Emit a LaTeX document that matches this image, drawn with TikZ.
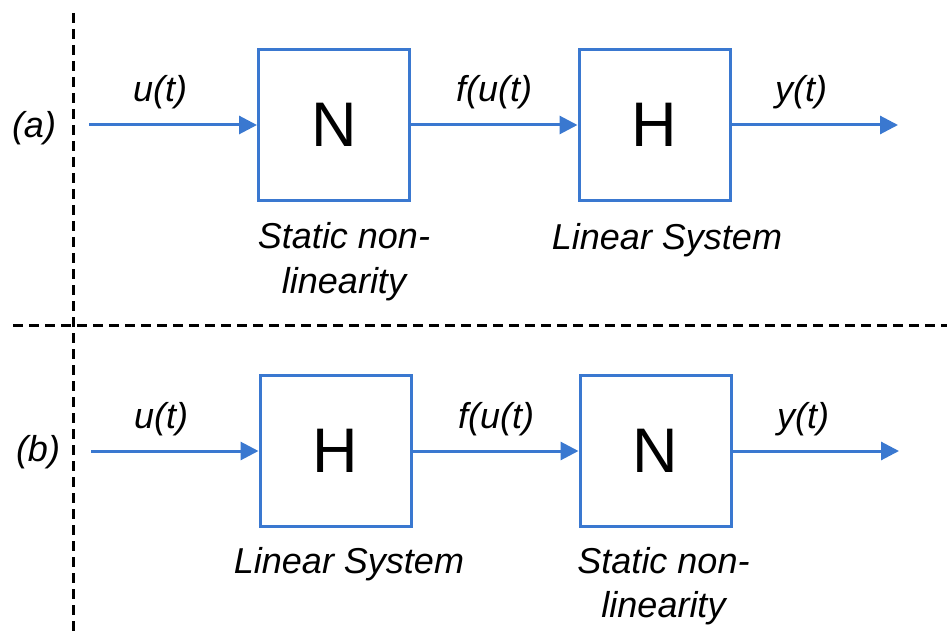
\documentclass[tikz,border=0pt]{standalone}
\usepackage{fontspec}
\setmainfont{Liberation Sans}
\usetikzlibrary{arrows.meta,positioning}
\definecolor{sysblue}{RGB}{58,120,208}
\tikzset{block/.style={draw=sysblue, line width=3pt, minimum size=151pt,
  inner sep=0pt, font=\fontsize{63}{63}\selectfont},
  sig/.style={draw=sysblue, line width=3pt, -{Triangle[length=18pt,width=18pt]}},
  lbl/.style={font=\fontsize{36}{44}\selectfont\itshape, inner sep=0pt, anchor=base},
  divider/.style={line width=3pt, dash pattern=on 10pt off 6pt}}

\begin{document}
\begin{tikzpicture}[x=1pt,y=-1pt]
  \useasboundingbox (0,0) rectangle (947,636);
  % dividers
  \draw[divider] (73,13) -- (73,636);
  \draw[divider] (13,325) -- (947,325);

  % (a) nonlinearity first
  \node (taga) at (34,128) {\fontsize{36}{44}\selectfont\itshape (a)};
  \coordinate (ina) at (89,125);
  \node[block] (nla) at (334,125) {N};
  \node[block] (lsa) at (654.5,125) {H};
  \coordinate (outa) at (898,125);
  \draw[sig] (ina) -- (nla);
  \draw[sig] (nla) -- (lsa);
  \draw[sig] (lsa) -- (outa);
  \node[lbl] (ua) at (160,102) {u(t)};
  \node[lbl] (fa) at (494,102) {f(u(t)};
  \node[lbl] (ya) at (801,102) {y(t)};
  \node[lbl, align=center] (capna) at (344,293) {Static non-\\linearity};
  \node[lbl] (capla) at (667,250) {Linear System};

  % (b) linear system first
  \node (tagb) at (38,452) {\fontsize{36}{44}\selectfont\itshape (b)};
  \coordinate (inb) at (91,451);
  \node[block] (lsb) at (335.5,451) {H};
  \node[block] (nlb) at (655.5,451) {N};
  \coordinate (outb) at (899,451);
  \draw[sig] (inb) -- (lsb);
  \draw[sig] (lsb) -- (nlb);
  \draw[sig] (nlb) -- (outb);
  \node[lbl] (ub) at (161,428) {u(t)};
  \node[lbl] (fb) at (496,428) {f(u(t)};
  \node[lbl] (yb) at (803,428) {y(t)};
  \node[lbl] (caplb) at (349,573) {Linear System};
  \node[lbl, align=center] (capnb) at (663.5,617) {Static non-\\linearity};
\end{tikzpicture}
\end{document}
